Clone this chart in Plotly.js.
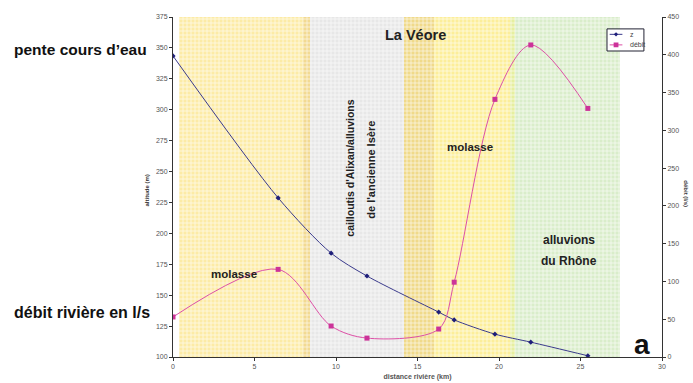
<!DOCTYPE html>
<html>
<head>
<meta charset="utf-8">
<script src="https://cdn.plot.ly/plotly-3.0.1.min.js"></script>
<style>html,body{margin:0;padding:0;background:#fff;}#chart{width:693px;height:383px;}</style>
</head>
<body>
<div id="chart"></div>
<script>
// distance along river (km)
var distance = [0, 6.45, 9.7, 11.9, 16.3, 17.25, 19.75, 21.95, 25.45];
// altitude z (m)
var altitude = [343.5, 228.7, 184, 165.5, 136.3, 130, 118.5, 112, 101];
// débit (l/s)
var debit = [53, 116, 41, 25, 37, 99, 341, 413, 329];
// legend labels
var seriesNames = ['z', 'débit'];

// geology zones along the river (km)
var zoneStart = [0.37, 8.0, 8.4, 14.2, 16.0, 20.7, 21.0];
var zoneEnd   = [8.0, 8.4, 14.2, 16.0, 20.7, 21.0, 27.4];
var zoneColor = ['#fceba6', '#f2da92', '#e7e7e7', '#f0da8a', '#fcee9a', '#e6efa0', '#d9edca'];

var zColor = '#3a3a8c', zMarker = '#1f1f7a';
var dColor = '#dd4fa6', dMarker = '#cc3399';

var traces = [];
for (var i = 0; i < zoneStart.length; i++) {
  traces.push({
    type: 'bar',
    x: [(zoneStart[i] + zoneEnd[i]) / 2],
    y: [275],
    base: [100],
    width: [zoneEnd[i] - zoneStart[i]],
    marker: {
      color: zoneColor[i],
      line: {width: 0},
      pattern: {shape: '+', size: 4, solidity: 0.3, fgcolor: '#ffffff', fgopacity: 0.85, bgcolor: zoneColor[i], fillmode: 'replace'}
    },
    showlegend: false,
    hoverinfo: 'skip',
    xaxis: 'x', yaxis: 'y'
  });
}

traces.push({
  type: 'scatter', mode: 'lines+markers', name: seriesNames[0],
  x: distance, y: altitude,
  line: {color: zColor, width: 1, shape: 'spline', smoothing: 0.8},
  marker: {color: zMarker, size: 4, symbol: 'diamond'},
  showlegend: false,
  xaxis: 'x', yaxis: 'y'
});
traces.push({
  type: 'scatter', mode: 'lines+markers', name: seriesNames[1],
  x: distance, y: debit,
  line: {color: dColor, width: 1, shape: 'spline', smoothing: 0.9},
  marker: {color: dMarker, size: 5, symbol: 'square'},
  showlegend: false,
  xaxis: 'x', yaxis: 'y2'
});

var tickFont = {family: 'Liberation Sans, Arial, sans-serif', size: 7, color: '#555'};
var ff = 'Liberation Sans, Arial, sans-serif';

function ann(x, y, text, size, opts) {
  var a = {xref: 'x', yref: 'paper', x: x, y: y, xanchor: 'center', yanchor: 'middle', showarrow: false,
           text: text, font: {family: ff, size: size, color: '#222'}};
  for (var k in opts) a[k] = opts[k];
  return a;
}

// manual compact legend (paper coordinates)
var lg = {x0: 0.8875, x1: 0.963, y0: 0.9, y1: 0.965, rows: [0.949, 0.918]};
var shapes = [
  {type: 'rect', xref: 'paper', yref: 'paper', x0: lg.x0, x1: lg.x1, y0: lg.y0, y1: lg.y1,
   fillcolor: '#fff', line: {color: '#223', width: 1}, layer: 'above'},
  {type: 'line', xref: 'paper', yref: 'paper', x0: 0.893, x1: 0.919, y0: lg.rows[0], y1: lg.rows[0], line: {color: zColor, width: 1}, layer: 'above'},
  {type: 'line', xref: 'paper', yref: 'paper', x0: 0.893, x1: 0.919, y0: lg.rows[1], y1: lg.rows[1], line: {color: dColor, width: 1}, layer: 'above'},
  {type: 'path', xref: 'paper', yref: 'paper', layer: 'above', fillcolor: zMarker, line: {width: 0},
   path: 'M0.906,' + (lg.rows[0] + 0.006) + ' L0.9104,' + lg.rows[0] + ' L0.906,' + (lg.rows[0] - 0.006) + ' L0.9016,' + lg.rows[0] + ' Z'},
  {type: 'rect', xref: 'paper', yref: 'paper', layer: 'above', fillcolor: dMarker, line: {width: 0},
   x0: 0.9011, x1: 0.9109, y0: lg.rows[1] - 0.007, y1: lg.rows[1] + 0.007}
];

var layout = {
  width: 693, height: 383,
  margin: {l: 173, r: 31, t: 17, b: 26},
  paper_bgcolor: '#fff', plot_bgcolor: 'rgba(0,0,0,0)',
  barmode: 'overlay', bargap: 0,
  showlegend: false,
  shapes: shapes,
  xaxis: {range: [0, 30], dtick: 5, showgrid: false, zeroline: false, showline: true, linecolor: '#333', linewidth: 1,
          ticks: 'outside', ticklen: 3, tickcolor: '#333', tickfont: tickFont,
          title: {text: '<b>distance rivière (km)</b>', font: {family: ff, size: 7, color: '#555'}, standoff: 4}},
  yaxis: {range: [100, 375], dtick: 25, showgrid: false, zeroline: false, showline: true, linecolor: '#333', linewidth: 1,
          ticks: 'outside', ticklen: 3, tickcolor: '#333', tickfont: tickFont},
  yaxis2: {range: [0, 450], dtick: 50, overlaying: 'y', side: 'right', showgrid: false, zeroline: false,
           showline: true, linecolor: '#333', linewidth: 1, ticks: 'outside', ticklen: 3, tickcolor: '#333', tickfont: tickFont},
  annotations: [
    {xref: 'paper', yref: 'paper', x: -0.053, y: 0.49, xanchor: 'center', yanchor: 'middle', showarrow: false,
     text: '<b>altitude (m)</b>', textangle: -90, font: {family: ff, size: 6, color: '#333'}},
    {xref: 'paper', yref: 'paper', x: 1.05, y: 0.48, xanchor: 'center', yanchor: 'middle', showarrow: false,
     text: '<b>débit (l/s)</b>', textangle: 90, font: {family: ff, size: 6, color: '#333'}},
    {xref: 'paper', yref: 'paper', x: -0.33, y: 0.905, xanchor: 'left', yanchor: 'middle', showarrow: false,
     text: '<b>pente cours d’eau</b>', font: {family: ff, size: 15.5, color: '#111'}},
    {xref: 'paper', yref: 'paper', x: -0.33, y: 0.13, xanchor: 'left', yanchor: 'middle', showarrow: false,
     text: '<b>débit rivière en l/s</b>', font: {family: ff, size: 16, color: '#111'}},
    {xref: 'paper', yref: 'paper', x: 0.93, y: lg.rows[0], xanchor: 'left', yanchor: 'middle', showarrow: false,
     text: seriesNames[0], font: {family: ff, size: 7, color: '#444'}},
    {xref: 'paper', yref: 'paper', x: 0.93, y: lg.rows[1], xanchor: 'left', yanchor: 'middle', showarrow: false,
     text: seriesNames[1], font: {family: ff, size: 7, color: '#444'}},
    ann(14.85, 0.947, '<b>La Véore</b>', 14.5, {}),
    ann(3.77, 0.244, '<b>molasse</b>', 11.5, {}),
    ann(18.2, 0.618, '<b>molasse</b>', 11.5, {}),
    ann(10.86, 0.554, '<b>cailloutis d\'Alixan/alluvions</b>', 10.5, {textangle: -90}),
    ann(12.15, 0.551, '<b>de l\'ancienne Isère</b>', 11, {textangle: -90}),
    ann(24.3, 0.344, '<b>alluvions</b>', 12, {}),
    ann(24.3, 0.282, '<b>du Rhône</b>', 12, {}),
    ann(28.77, 0.037, '<b>a</b>', 28, {font: {family: ff, size: 28, color: '#111'}})
  ]
};

Plotly.newPlot('chart', traces, layout, {displayModeBar: false, staticPlot: true});
</script>
</body>
</html>
